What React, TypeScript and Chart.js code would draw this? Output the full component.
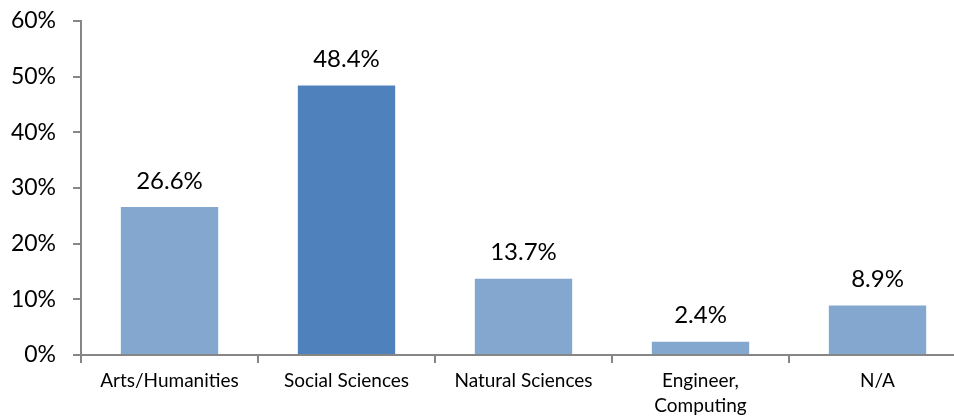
import React, { useEffect, useRef } from "react";
import { Chart, registerables } from "chart.js";

Chart.register(...registerables);

const categories: (string | string[])[] = [
  "Arts/Humanities",
  "Social Sciences",
  "Natural Sciences",
  ["Engineer,", "Computing"],
  "N/A",
];
const values: number[] = [26.6, 48.4, 13.7, 2.4, 8.9];
const barColors: string[] = ["#84A7CF", "#4F81BD", "#84A7CF", "#84A7CF", "#84A7CF"];
const yTicks: number[] = [0, 10, 20, 30, 40, 50, 60];

const FONT = "Lato, 'Open Sans', sans-serif";
const AXIS = "#868686";

const labelPlugin = {
  id: "valueLabels",
  afterDatasetsDraw(chart: any) {
    const ctx = chart.ctx;
    const meta = chart.getDatasetMeta(0);
    ctx.save();
    ctx.font = `24px ${FONT}`;
    ctx.fillStyle = "#000";
    ctx.textAlign = "center";
    ctx.textBaseline = "middle";
    meta.data.forEach((bar: any, i: number) => {
      ctx.fillText(values[i].toFixed(1) + "%", bar.x, bar.y - 26);
    });
    ctx.restore();
  },
};

export default function App() {
  const ref = useRef<HTMLCanvasElement>(null);
  useEffect(() => {
    if (!ref.current) return;
    const chart = new Chart(ref.current, {
      type: "bar",
      data: {
        labels: categories,
        datasets: [
          {
            data: values,
            backgroundColor: barColors,
            borderWidth: 0,
            barPercentage: 0.55,
            categoryPercentage: 1,
          },
        ],
      },
      options: {
        animation: false,
        responsive: false,
        maintainAspectRatio: false,
        layout: { padding: { top: 21, right: 4, left: 0, bottom: 0 } },
        plugins: { legend: { display: false }, tooltip: { enabled: false } },
        scales: {
          x: {
            grid: {
              offset: true,
              drawOnChartArea: false,
              drawTicks: true,
              tickLength: 8,
              color: AXIS,
              lineWidth: 2,
            },
            border: { color: AXIS, width: 2 },
            ticks: {
              color: "#000",
              font: { family: FONT, size: 19, lineHeight: 1.3 },
              padding: 6,
              maxRotation: 0,
              autoSkip: false,
            },
            afterFit(scale: any) {
              scale.height = 65;
              scale.paddingLeft = 0;
              scale.paddingRight = 0;
            },
          },
          y: {
            min: 0,
            max: 60,
            afterBuildTicks(scale: any) {
              scale.ticks = yTicks.map((v) => ({ value: v }));
            },
            grid: {
              drawOnChartArea: false,
              drawTicks: true,
              tickLength: 8,
              color: AXIS,
              lineWidth: 2,
            },
            border: { color: AXIS, width: 2 },
            ticks: {
              color: "#000",
              font: { family: FONT, size: 23 },
              padding: 17,
              callback: (v: any) => v + "%",
            },
            afterFit(scale: any) {
              scale.width = 81;
              scale.paddingTop = 0;
              scale.paddingBottom = 0;
            },
          },
        },
      },
      plugins: [labelPlugin],
    });
    return () => chart.destroy();
  }, []);
  return (
    <div style={{ position: "fixed", left: 0, top: 0, width: 954, height: 420, overflow: "hidden", background: "#fff" }}>
      <canvas ref={ref} width={970} height={420} style={{ display: "block" }} />
    </div>
  );
}
